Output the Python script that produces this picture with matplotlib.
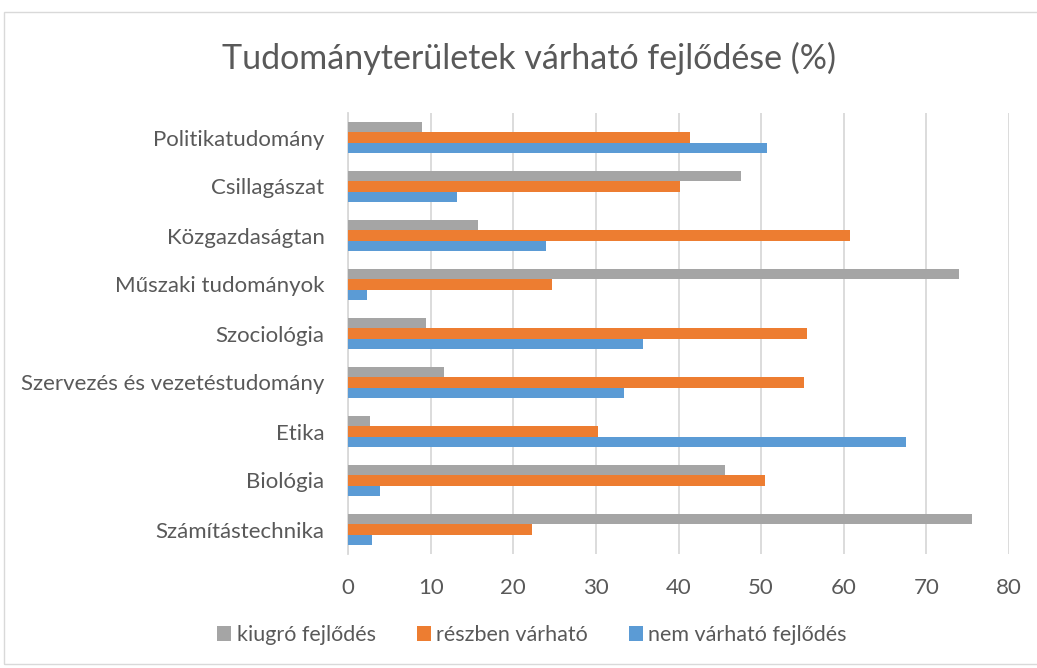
import matplotlib
matplotlib.use('Agg')
import matplotlib.pyplot as plt
import numpy as np

categories = ["Számítástechnika", "Biológia", "Etika", "Szervezés és vezetéstudomány",
              "Szociológia", "Műszaki tudományok", "Közgazdaságtan", "Csillagászat",
              "Politikatudomány"]
nem_varhato = [2.9, 3.9, 67.5, 33.4, 35.7, 2.3, 24.0, 13.2, 50.7]
reszben = [22.3, 50.5, 30.2, 55.2, 55.5, 24.7, 60.8, 40.2, 41.4]
kiugro = [75.5, 45.6, 2.7, 11.6, 9.4, 73.9, 15.7, 47.6, 8.9]
series_names = ["nem várható fejlődés", "részben várható", "kiugró fejlődés"]
colors = ["#5B9BD5", "#ED7D31", "#A5A5A5"]
xticks = [0, 10, 20, 30, 40, 50, 60, 70, 80]

plt.rcParams['font.family'] = ['Lato', 'DejaVu Sans']
text_color = "#595959"

fig = plt.figure(figsize=(10.37, 6.68), dpi=100)
ax = fig.add_axes([348 / 1037, 1 - 554 / 668, (1009 - 348) / 1037, (554 - 113) / 668])

y = np.arange(len(categories))
h = 0.205
for i, (vals, name, col) in enumerate(zip([nem_varhato, reszben, kiugro], series_names, colors)):
    ax.barh(y + (i - 1) * h, vals, height=h, color=col, label=name, zorder=3)

ax.set_xlim(0, 80)
ax.set_ylim(-0.5, len(categories) - 0.5)
ax.set_xticks(xticks)
ax.set_yticks(y)
ax.set_yticklabels(categories)
ax.tick_params(axis='both', length=0, labelsize=16, colors=text_color)
ax.tick_params(axis='x', pad=17)
ax.tick_params(axis='y', pad=17)
ax.grid(axis='x', color="#D9D9D9", linewidth=1.3, zorder=0)
for s in ['top', 'right', 'bottom']:
    ax.spines[s].set_visible(False)
ax.spines['left'].set_color("#D9D9D9")
ax.spines['left'].set_linewidth(1.3)

fig.text(529 / 1037, 1 - 58 / 668, "Tudományterületek várható fejlődése (%)", ha='center', va='center',
         fontsize=24.5, color=text_color)

handles, labels = ax.get_legend_handles_labels()
fig.legend(handles[::-1], labels[::-1], loc='center', bbox_to_anchor=(532 / 1037, 1 - 635 / 668),
           ncol=3, frameon=False, fontsize=15.5, labelcolor=text_color,
           handlelength=0.65, handleheight=0.65, handletextpad=0.25, columnspacing=1.9)

border = plt.Rectangle((4 / 1037, 4 / 668), 1, 1 - 16 / 668, transform=fig.transFigure,
                       fill=False, edgecolor="#D9D9D9", linewidth=1)
fig.patches.append(border)

fig.savefig("out.png", dpi=100)
